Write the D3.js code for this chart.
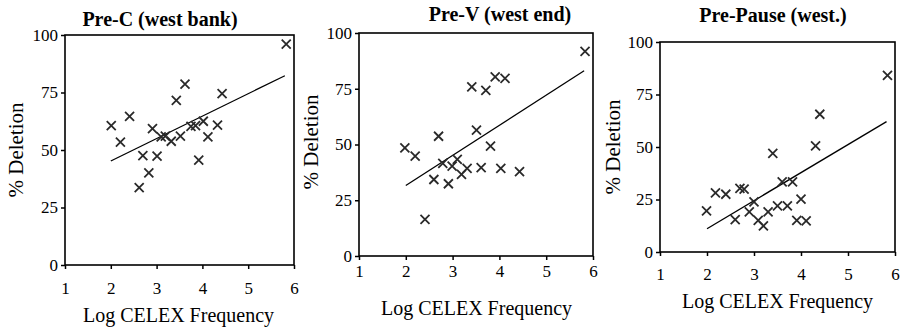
<!DOCTYPE html>
<html lang="en">
  <head>
    <meta charset="UTF-8" />
    <title>Deletion vs CELEX frequency</title>
  </head>
  <body style="margin: 0; background: #fff">
    <script src="https://d3js.org/d3.v7.min.js"></script>
    <script>
      // data
      const titles = ["Pre-C (west bank)", "Pre-V (west end)", "Pre-Pause (west.)"];
      const xTicks = [1, 2, 3, 4, 5, 6];
      const yTicks = [0, 25, 50, 75, 100];

      const preCx = [2.01, 2.21, 2.41, 2.62, 2.70, 2.83, 2.91, 3.01, 3.10, 3.19, 3.32, 3.43, 3.52, 3.62, 3.75, 3.85, 3.92, 4.02, 4.12, 4.33, 4.43, 5.83];
      const preCy = [60.6, 53.4, 64.6, 33.6, 47.6, 40.1, 59.3, 47.3, 55.7, 56.0, 53.8, 71.6, 56.0, 78.6, 60.3, 60.6, 45.6, 62.5, 55.7, 60.8, 74.5, 96.0];

      const preVx = [1.98, 2.20, 2.41, 2.60, 2.70, 2.79, 2.91, 2.99, 3.10, 3.19, 3.31, 3.41, 3.51, 3.61, 3.71, 3.81, 3.91, 4.03, 4.12, 4.43, 5.83];
      const preVy = [48.5, 44.8, 16.4, 34.3, 53.7, 41.5, 32.4, 40.3, 43.3, 36.6, 39.3, 75.8, 56.4, 39.6, 74.3, 49.3, 80.3, 39.3, 79.7, 37.8, 91.8];

      const prePx = [1.99, 2.18, 2.40, 2.60, 2.70, 2.79, 2.90, 3.00, 3.09, 3.20, 3.30, 3.40, 3.50, 3.60, 3.71, 3.82, 3.91, 4.00, 4.11, 4.31, 4.40, 5.84];
      const prePy = [19.6, 28.2, 27.5, 15.4, 30.3, 29.9, 19.1, 23.9, 15.1, 12.4, 19.1, 47.0, 22.0, 33.4, 22.0, 33.4, 15.1, 25.2, 14.8, 50.5, 65.6, 84.1];

      // fitted line end points [x0, y0, x1, y1]
      const preCfit = [2.0, 45.2, 5.8, 82.3];
      const preVfit = [2.0, 31.6, 5.81, 83.1];
      const prePfit = [2.0, 11.1, 5.82, 62.1];

      const series = [
        { xs: preCx, ys: preCy, fit: preCfit },
        { xs: preVx, ys: preVy, fit: preVfit },
        { xs: prePx, ys: prePy, fit: prePfit },
      ];

      // each panel was pasted in with its own frame
      const frames = [
        { left: 65, right: 294, top: 35, bottom: 265, titleX: 160, titleY: 26, tickY: 25, ylabX: 23, ylabY: 150, xlabX: 178.5, xlabY: 322 },
        { left: 359, right: 593, top: 33, bottom: 256, titleX: 500, titleY: 21, tickY: 17, ylabX: 318, ylabY: 142, xlabX: 476.5, xlabY: 315 },
        { left: 660, right: 895, top: 42, bottom: 252, titleX: 773, titleY: 22, tickY: 24, ylabX: 620, ylabY: 147, xlabX: 777.5, xlabY: 308 },
      ];

      const serif = "Liberation Serif";

      const svg = d3
        .select("body")
        .append("svg")
        .attr("width", 902)
        .attr("height", 329)
        .attr("font-family", serif);

      const cross = "M-4.5,-4.5L4.5,4.5M4.5,-4.5L-4.5,4.5";

      frames.forEach((f, i) => {
        const s = series[i];
        const x = d3.scaleLinear().domain([1, 6]).range([f.left, f.right]);
        const y = d3.scaleLinear().domain([0, 100]).range([f.bottom, f.top]);
        const g = svg.append("g");

        g.append("g")
          .attr("transform", `translate(0,${f.bottom})`)
          .call(d3.axisBottom(x).tickValues(xTicks).tickSize(4).tickSizeOuter(0).tickFormat(d3.format("d")))
          .attr("font-family", serif)
          .attr("font-size", 17)
          .call((a) => a.select(".domain").remove())
          .call((a) => a.selectAll("line").attr("stroke", "#000").attr("stroke-width", 1.5))
          .call((a) => a.selectAll("text").attr("y", f.tickY - 8).attr("dy", "0.71em").attr("fill", "#000"));

        g.append("g")
          .attr("transform", `translate(${f.left},0)`)
          .call(d3.axisLeft(y).tickValues(yTicks).tickSize(4).tickSizeOuter(0))
          .attr("font-family", serif)
          .attr("font-size", 17)
          .call((a) => a.select(".domain").remove())
          .call((a) => a.selectAll("line").attr("stroke", "#000").attr("stroke-width", 1.5))
          .call((a) => a.selectAll("text").attr("x", -7).attr("fill", "#000"));

        g.append("rect")
          .attr("x", x(1))
          .attr("y", y(100))
          .attr("width", x(6) - x(1))
          .attr("height", y(0) - y(100))
          .attr("fill", "none")
          .attr("stroke", "#000")
          .attr("stroke-width", 1.6);

        g.append("line")
          .attr("x1", x(s.fit[0]))
          .attr("y1", y(s.fit[1]))
          .attr("x2", x(s.fit[2]))
          .attr("y2", y(s.fit[3]))
          .attr("stroke", "#000")
          .attr("stroke-width", 1.3);

        g.append("g")
          .selectAll("path")
          .data(s.xs.map((v, j) => [v, s.ys[j]]))
          .join("path")
          .attr("d", cross)
          .attr("transform", (d) => `translate(${x(d[0])},${y(d[1])})`)
          .attr("stroke", "#2a2a2a")
          .attr("stroke-width", 1.8)
          .attr("fill", "none");

        g.append("text")
          .attr("x", f.titleX)
          .attr("y", f.titleY)
          .attr("text-anchor", "middle")
          .attr("font-family", serif)
          .attr("font-size", 20)
          .attr("font-weight", "bold")
          .text(titles[i]);

        g.append("text")
          .attr("transform", `translate(${f.ylabX},${f.ylabY}) rotate(-90)`)
          .attr("text-anchor", "middle")
          .attr("font-family", serif)
          .attr("font-size", 21)
          .text("% Deletion");

        g.append("text")
          .attr("x", f.xlabX)
          .attr("y", f.xlabY)
          .attr("text-anchor", "middle")
          .attr("font-family", serif)
          .attr("font-size", 20)
          .text("Log CELEX Frequency");
      });
    </script>
  </body>
</html>
